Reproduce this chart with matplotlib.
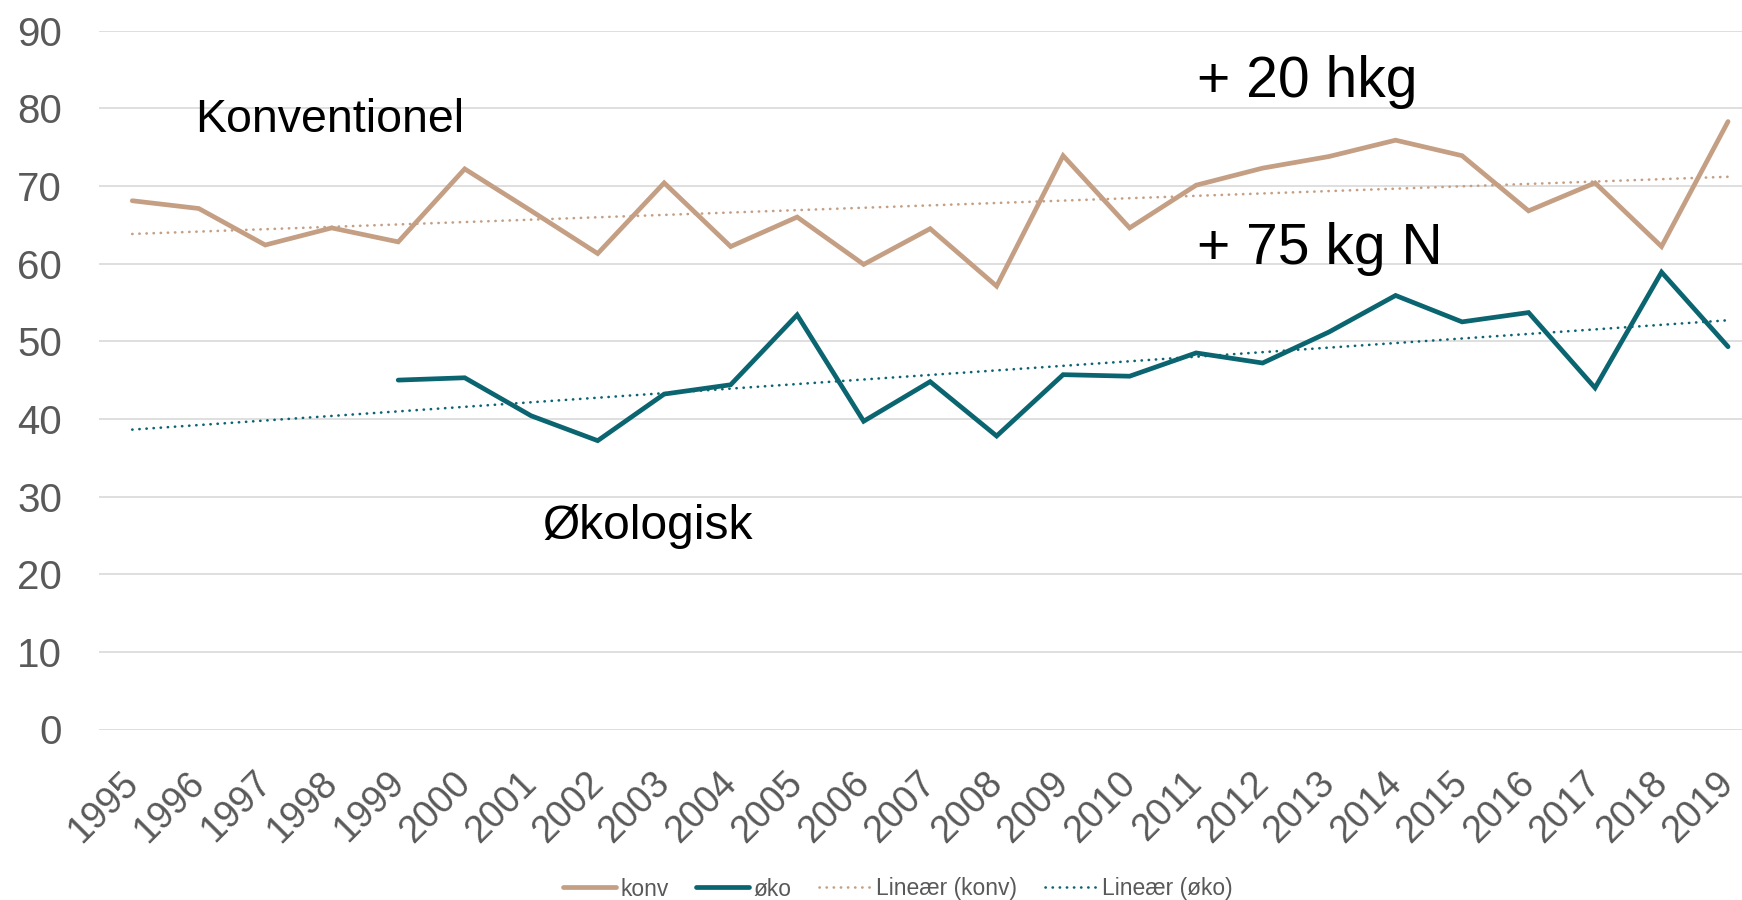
import numpy as np
import matplotlib
matplotlib.use("Agg")
import matplotlib.pyplot as plt
import matplotlib.transforms as mtransforms
from matplotlib import font_manager

years = list(range(1995, 2020))
konv = [68.1, 67.1, 62.4, 64.6, 62.8, 72.2, 66.8, 61.3, 70.4, 62.2, 66.0, 59.9, 64.5,
        57.1, 73.9, 64.6, 70.1, 72.3, 73.8, 75.9, 73.9, 66.8, 70.4, 62.2, 78.3]
oko = [np.nan, np.nan, np.nan, np.nan, 45.0, 45.3, 40.4, 37.2, 43.2, 44.4, 53.4, 39.7, 44.8,
       37.8, 45.7, 45.5, 48.5, 47.2, 51.2, 55.9, 52.5, 53.7, 44.0, 58.9, 49.3]
yticks = [0, 10, 20, 30, 40, 50, 60, 70, 80, 90]

C_KONV = "#C49F84"
C_OKO = "#0B6570"
GRAY = "#595959"

plt.rcParams['font.family'] = ['Liberation Sans', 'DejaVu Sans']

names = {f.name for f in font_manager.fontManager.ttflist}
if 'Liberation Sans Narrow' in names:
    leg_family = ['Liberation Sans Narrow', 'Liberation Sans']
    leg_size = 19.8
else:
    leg_family = ['Liberation Sans', 'DejaVu Sans']
    leg_size = 16.5

fig = plt.figure(figsize=(17.42, 9.0), dpi=100)
ax = fig.add_axes([99/1742, 1-729.5/900, 1-99/1742, (729.5-30.7)/900])

x = np.array(years, dtype=float)
k = np.array(konv, dtype=float)
o = np.array(oko, dtype=float)

ax.plot(x, k, color=C_KONV, lw=3.4, solid_capstyle='round', solid_joinstyle='miter', label='konv', zorder=3)
ax.plot(x, o, color=C_OKO, lw=3.4, solid_capstyle='round', solid_joinstyle='miter', label='øko', zorder=3)

pk = np.polyfit(x, k, 1)
m = ~np.isnan(o)
po = np.polyfit(x[m], o[m], 1)
ax.plot(x, np.polyval(pk, x), color=C_KONV, lw=1.9, linestyle=(0, (0.1, 2.6)),
        dash_capstyle='round', label='Lineær (konv)', zorder=2)
ax.plot(x, np.polyval(po, x), color=C_OKO, lw=1.9, linestyle=(0, (0.1, 2.6)),
        dash_capstyle='round', label='Lineær (øko)', zorder=2)

ax.set_xlim(1994.5, 2019.21)
ax.set_ylim(0, 90)
ax.set_yticks(yticks)
ax.set_yticklabels([str(v) for v in yticks])
ax.set_xticks(x)
ax.set_xticklabels([str(y) for y in years])
ax.grid(axis='y', color='#D9D9D9', lw=1.2)
ax.set_axisbelow(True)
for s in ax.spines.values():
    s.set_visible(False)
ax.tick_params(axis='y', length=0, pad=26.5, labelsize=29, labelcolor=GRAY)
ax.tick_params(axis='x', length=0, pad=25.5, labelsize=27, labelcolor=GRAY)
offset = mtransforms.ScaledTranslation(-12.5/100, 0, fig.dpi_scale_trans)
for lab in ax.get_xticklabels():
    lab.set_rotation(45)
    lab.set_ha('right')
    lab.set_va('top')
    lab.set_rotation_mode('anchor')
    lab.set_transform(lab.get_transform() + offset)

ax.text(1995.94, 77.0, "Konventionel", fontsize=33.5, color='black', va='baseline', ha='left')
ax.text(2011.01, 81.4, "+ 20 hkg", fontsize=41, color='black', va='baseline', ha='left')
ax.text(2011.01, 59.9, "+ 75 kg N", fontsize=41, color='black', va='baseline', ha='left')
ax.text(2001.17, 24.5, "Økologisk", fontsize=34.5, color='black', va='baseline', ha='left')

leg = fig.legend(loc='center', bbox_to_anchor=(898/1742, 1-889/900), ncol=4, frameon=False,
                 prop={'family': leg_family, 'size': leg_size},
                 handlelength=2.3, handletextpad=0.2, columnspacing=1.2)
for t in leg.get_texts():
    t.set_color(GRAY)

fig.savefig("out.png", dpi=100)
